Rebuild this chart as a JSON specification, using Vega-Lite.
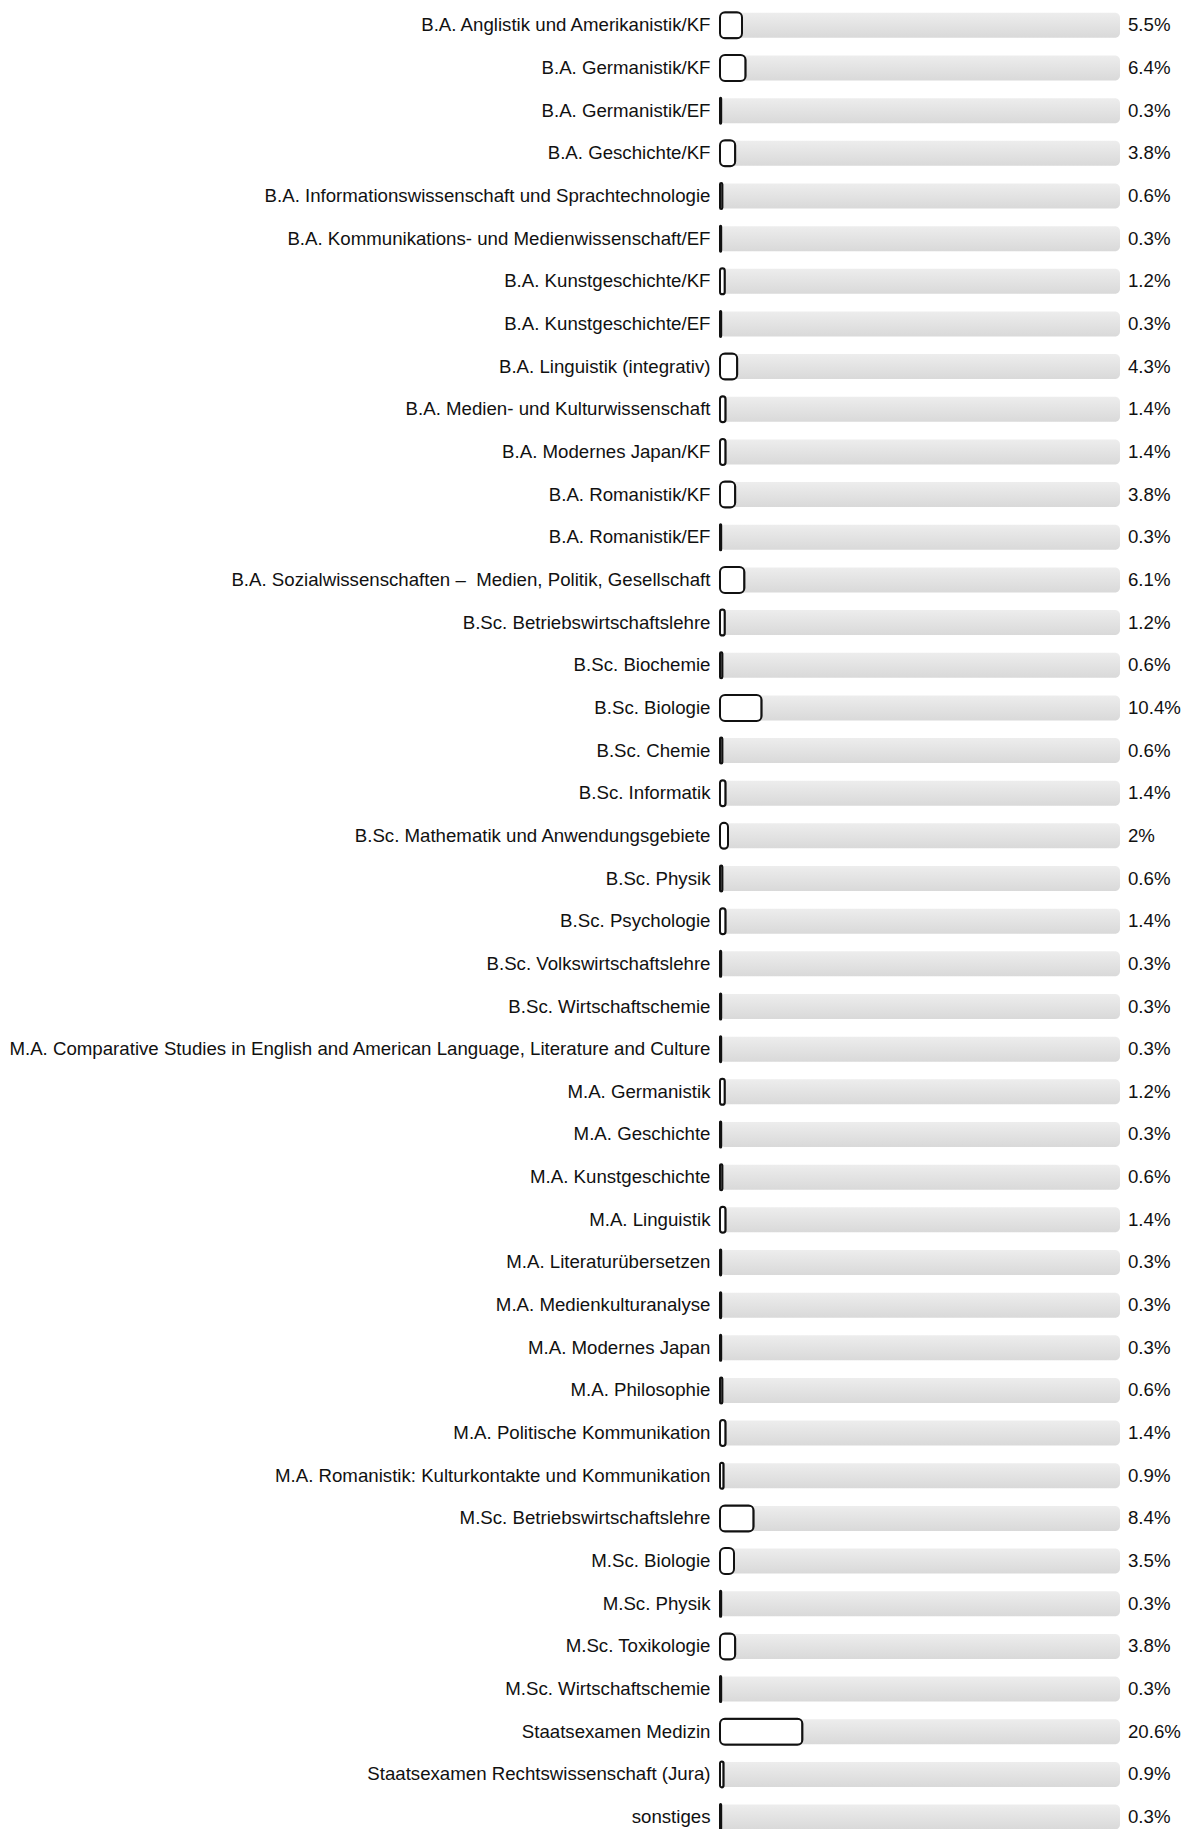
{
  "$schema": "https://vega.github.io/schema/vega-lite/v6.json",
  "autosize": {"type": "none"},
  "padding": {"left": 720, "top": 4, "right": 62, "bottom": 0},
  "width": 400,
  "height": {"step": 42.66},
  "background": "white",
  "config": {"view": {"stroke": null}, "font": "Liberation Sans"},
  "data": {"values": [
    {"studiengang": "B.A. Anglistik und Amerikanistik/KF", "anteil": 5.5, "text": "5.5%"},
    {"studiengang": "B.A. Germanistik/KF", "anteil": 6.4, "text": "6.4%"},
    {"studiengang": "B.A. Germanistik/EF", "anteil": 0.3, "text": "0.3%"},
    {"studiengang": "B.A. Geschichte/KF", "anteil": 3.8, "text": "3.8%"},
    {"studiengang": "B.A. Informationswissenschaft und Sprachtechnologie", "anteil": 0.6, "text": "0.6%"},
    {"studiengang": "B.A. Kommunikations- und Medienwissenschaft/EF", "anteil": 0.3, "text": "0.3%"},
    {"studiengang": "B.A. Kunstgeschichte/KF", "anteil": 1.2, "text": "1.2%"},
    {"studiengang": "B.A. Kunstgeschichte/EF", "anteil": 0.3, "text": "0.3%"},
    {"studiengang": "B.A. Linguistik (integrativ)", "anteil": 4.3, "text": "4.3%"},
    {"studiengang": "B.A. Medien- und Kulturwissenschaft", "anteil": 1.4, "text": "1.4%"},
    {"studiengang": "B.A. Modernes Japan/KF", "anteil": 1.4, "text": "1.4%"},
    {"studiengang": "B.A. Romanistik/KF", "anteil": 3.8, "text": "3.8%"},
    {"studiengang": "B.A. Romanistik/EF", "anteil": 0.3, "text": "0.3%"},
    {"studiengang": "B.A. Sozialwissenschaften –\u00a0 Medien, Politik, Gesellschaft", "anteil": 6.1, "text": "6.1%"},
    {"studiengang": "B.Sc. Betriebswirtschaftslehre", "anteil": 1.2, "text": "1.2%"},
    {"studiengang": "B.Sc. Biochemie", "anteil": 0.6, "text": "0.6%"},
    {"studiengang": "B.Sc. Biologie", "anteil": 10.4, "text": "10.4%"},
    {"studiengang": "B.Sc. Chemie", "anteil": 0.6, "text": "0.6%"},
    {"studiengang": "B.Sc. Informatik", "anteil": 1.4, "text": "1.4%"},
    {"studiengang": "B.Sc. Mathematik und Anwendungsgebiete", "anteil": 2, "text": "2%"},
    {"studiengang": "B.Sc. Physik", "anteil": 0.6, "text": "0.6%"},
    {"studiengang": "B.Sc. Psychologie", "anteil": 1.4, "text": "1.4%"},
    {"studiengang": "B.Sc. Volkswirtschaftslehre", "anteil": 0.3, "text": "0.3%"},
    {"studiengang": "B.Sc. Wirtschaftschemie", "anteil": 0.3, "text": "0.3%"},
    {"studiengang": "M.A. Comparative Studies in English and American Language, Literature and Culture", "anteil": 0.3, "text": "0.3%"},
    {"studiengang": "M.A. Germanistik", "anteil": 1.2, "text": "1.2%"},
    {"studiengang": "M.A. Geschichte", "anteil": 0.3, "text": "0.3%"},
    {"studiengang": "M.A. Kunstgeschichte", "anteil": 0.6, "text": "0.6%"},
    {"studiengang": "M.A. Linguistik", "anteil": 1.4, "text": "1.4%"},
    {"studiengang": "M.A. Literaturübersetzen", "anteil": 0.3, "text": "0.3%"},
    {"studiengang": "M.A. Medienkulturanalyse", "anteil": 0.3, "text": "0.3%"},
    {"studiengang": "M.A. Modernes Japan", "anteil": 0.3, "text": "0.3%"},
    {"studiengang": "M.A. Philosophie", "anteil": 0.6, "text": "0.6%"},
    {"studiengang": "M.A. Politische Kommunikation", "anteil": 1.4, "text": "1.4%"},
    {"studiengang": "M.A. Romanistik: Kulturkontakte und Kommunikation", "anteil": 0.9, "text": "0.9%"},
    {"studiengang": "M.Sc. Betriebswirtschaftslehre", "anteil": 8.4, "text": "8.4%"},
    {"studiengang": "M.Sc. Biologie", "anteil": 3.5, "text": "3.5%"},
    {"studiengang": "M.Sc. Physik", "anteil": 0.3, "text": "0.3%"},
    {"studiengang": "M.Sc. Toxikologie", "anteil": 3.8, "text": "3.8%"},
    {"studiengang": "M.Sc. Wirtschaftschemie", "anteil": 0.3, "text": "0.3%"},
    {"studiengang": "Staatsexamen Medizin", "anteil": 20.6, "text": "20.6%"},
    {"studiengang": "Staatsexamen Rechtswissenschaft (Jura)", "anteil": 0.9, "text": "0.9%"},
    {"studiengang": "sonstiges", "anteil": 0.3, "text": "0.3%"}
  ]},
  "encoding": {
    "y": {
      "field": "studiengang", "type": "nominal", "sort": null,
      "scale": {"paddingInner": 0, "paddingOuter": 0},
      "axis": {"title": null, "domain": false, "ticks": false, "labelPadding": 10, "labelFontSize": 18.67, "labelColor": "#111", "labelLimit": 1000, "labelFont": "Liberation Sans"}
    }
  },
  "layer": [
    {
      "mark": {"type": "bar", "height": 25, "cornerRadius": 5,
        "color": {"gradient": "linear", "x1": 0, "y1": 0, "x2": 0, "y2": 1,
          "stops": [{"offset": 0, "color": "#ededed"}, {"offset": 1, "color": "#d9d9d9"}]}},
      "encoding": {
        "x": {"datum": 0, "type": "quantitative", "scale": {"domain": [0, 100], "nice": false}, "axis": null},
        "x2": {"datum": 100}
      }
    },
    {
      "mark": {"type": "bar", "height": 26, "cornerRadius": 5, "fill": "white", "stroke": "#111", "strokeWidth": 2},
      "encoding": {
        "x": {"field": "anteil", "type": "quantitative", "scale": {"domain": [0, 100], "nice": false}, "axis": null}
      }
    },
    {
      "mark": {"type": "text", "align": "left", "baseline": "middle", "dx": 8, "fontSize": 18.67, "color": "#111", "font": "Liberation Sans"},
      "encoding": {
        "x": {"datum": 100, "type": "quantitative"},
        "text": {"field": "text"}
      }
    }
  ]
}
